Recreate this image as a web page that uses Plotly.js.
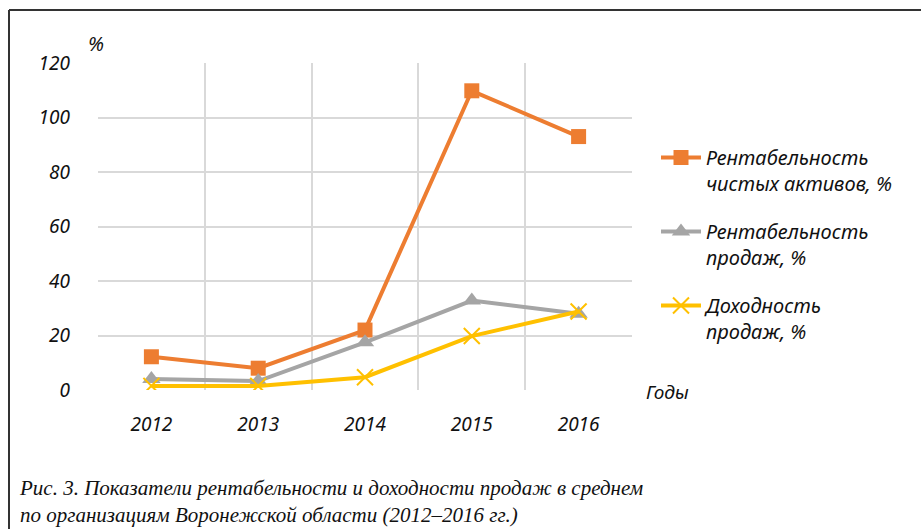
<!DOCTYPE html>
<html>
<head>
<meta charset="utf-8">
<script src="https://cdn.plot.ly/plotly-3.0.1.min.js"></script>
<style>
html,body{margin:0;padding:0;background:#fff;}
#chart{width:921px;height:529px;}
</style>
</head>
<body>
<div id="chart"></div>
<script>
const years = ["2012", "2013", "2014", "2015", "2016"];
const seriesNames = ["Рентабельность<br>чистых активов, %", "Рентабельность<br>продаж, %", "Доходность<br>продаж, %"];
const netAssetsReturn = [12.2, 8.0, 22.0, 109.8, 93.0];
const salesReturn = [4.0, 3.3, 17.5, 32.8, 28.0];
const salesYield = [1.5, 1.5, 4.7, 19.8, 28.8];
const yTicks = [0, 20, 40, 60, 80, 100, 120];
const captionLines = ["Рис. 3. Показатели рентабельности и доходности продаж в среднем", "по организациям Воронежской области (2012–2016 гг.)"];

const idx = years.map((_, i) => i);
const sans = "Noto Sans, DejaVu Sans, sans-serif";
const PW = 534, PH = 327, L = 98, T = 63;
const px = v => (v - L) / PW;
const py = v => (T + PH - v) / PH;

const traces = [
  {x: idx, y: netAssetsReturn, name: seriesNames[0], legendgroup: "g1", type: "scatter", mode: "lines+markers",
   line: {color: "#ED7D31", width: 4}, marker: {symbol: "square", size: 15, color: "#ED7D31"}},
  {x: idx, y: salesReturn, name: seriesNames[1], legendgroup: "g2", type: "scatter", mode: "lines+markers",
   line: {color: "#A5A5A5", width: 4}, marker: {symbol: "triangle-up", size: 16, color: "#A5A5A5"}},
  {x: idx, y: salesYield, name: seriesNames[2], legendgroup: "g3", type: "scatter", mode: "lines+markers",
   line: {color: "#FFC000", width: 4}, marker: {symbol: "x-thin-open", size: 16, color: "#FFC000", line: {color: "#FFC000", width: 2}}}
];

const tickFont = {family: sans, size: 19, style: "italic", color: "#111"};

const layout = {
  width: 921, height: 529,
  margin: {l: L, r: 921 - L - PW, t: T, b: 529 - T - PH, pad: 0},
  paper_bgcolor: "#fff", plot_bgcolor: "#fff",
  font: {family: sans, size: 19, color: "#111"},
  showlegend: true,
  legend: {x: px(656), y: py(138), xanchor: "left", yanchor: "top", valign: "top",
           font: {family: sans, size: 20, style: "italic", color: "#111"},
           tracegroupgap: 19, itemwidth: 40, bgcolor: "rgba(0,0,0,0)"},
  xaxis: {
    range: [-0.5, 4.5], tickmode: "array", tickvals: idx, ticktext: years,
    showgrid: false, zeroline: false, showline: false, ticks: "",
    ticklabelstandoff: 21,
    tickfont: tickFont,
    minor: {tickmode: "array", tickvals: [-0.5, 0.5, 1.5, 2.5, 3.5, 4.5], showgrid: true, gridcolor: "#D9D9D9", gridwidth: 2, ticks: ""},
    fixedrange: true
  },
  yaxis: {
    range: [0, 120], tickmode: "array", tickvals: yTicks,
    showgrid: true, gridcolor: "#D9D9D9", gridwidth: 2, zeroline: false, showline: false, ticks: "",
    ticklabelstandoff: 27,
    tickfont: tickFont,
    fixedrange: true
  },
  annotations: [
    {text: "%", xref: "paper", yref: "paper", x: px(106), y: py(43), xanchor: "right", yanchor: "middle", showarrow: false,
     font: {family: sans, size: 20, style: "italic", color: "#111"}},
    {text: "Годы", xref: "paper", yref: "paper", x: px(644), y: py(392), xanchor: "left", yanchor: "middle", showarrow: false,
     font: {family: sans, size: 19, style: "italic", color: "#111"}},
    {text: captionLines.join("<br>"), xref: "paper", yref: "paper", x: px(17), y: py(502), xanchor: "left", yanchor: "middle", align: "left", showarrow: false,
     font: {family: "Liberation Serif, serif", size: 21, style: "italic", color: "#111"}}
  ],
  shapes: [
    {type: "line", xref: "paper", yref: "paper", x0: px(9), x1: px(925), y0: py(10), y1: py(10),
     line: {color: "#333", width: 2}},
    {type: "line", xref: "paper", yref: "paper", x0: px(9), x1: px(9), y0: py(10), y1: py(535),
     line: {color: "#333", width: 2}}
  ]
};

Plotly.newPlot("chart", traces, layout, {displayModeBar: false, staticPlot: true});
</script>
</body>
</html>
